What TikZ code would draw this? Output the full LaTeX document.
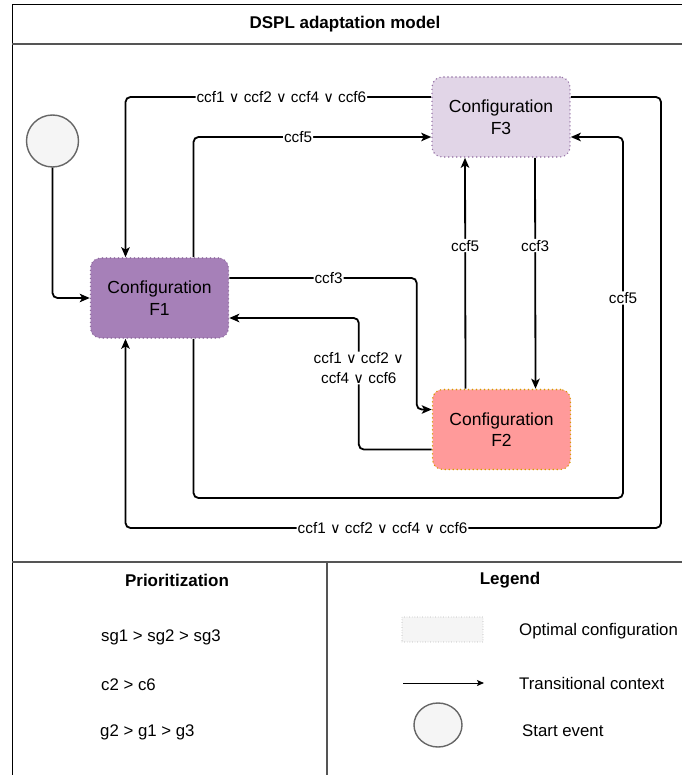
\documentclass[tikz,border=0pt]{standalone}
\usepackage{fontspec}
\setmainfont{Liberation Sans}
\newfontfamily\djv[Scale=0.95]{DejaVu Sans}
\usetikzlibrary{arrows.meta,calc,shapes.geometric}
\newcommand{\myor}{{\djv ∨}}
\definecolor{fonefill}{HTML}{A680B8}
\definecolor{foneline}{HTML}{8E6A9E}
\definecolor{fthreefill}{HTML}{E1D5E7}
\definecolor{fthreeline}{HTML}{9673A6}
\definecolor{ftwofill}{HTML}{FF9A9A}
\definecolor{ftwoline}{HTML}{D79B00}
\definecolor{startfill}{HTML}{F5F5F5}
\definecolor{startline}{HTML}{666666}
\definecolor{sepgray}{HTML}{555555}
\tikzset{
  cfg/.style={rectangle, rounded corners=10pt, minimum width=138pt, minimum height=80pt,
    line width=1.6pt, line cap=round, dash pattern=on 0pt off 4pt, align=center, inner sep=0pt,
    font=\fontsize{17.5}{21.5}\selectfont},
  edge/.style={line width=1.8pt, rounded corners=5pt, -{Stealth[length=10pt,width=8.5pt,inset=2.5pt]}},
  lbl/.style={fill=white, inner sep=1pt, font=\fontsize{15.3}{19.5}\selectfont, align=center},
  txt/.style={inner sep=0pt, font=\fontsize{16.8}{20}\selectfont},
  boldtxt/.style={inner sep=0pt, font=\fontsize{17}{20}\selectfont\bfseries},
  sepline/.style={line width=1.1pt, draw=sepgray},
}
\begin{document}
\begin{tikzpicture}[x=1pt,y=-1pt]
\useasboundingbox (0,0) rectangle (681,775);
% frame
\draw[line width=1pt] (12,4.5) rectangle (682,777);
\node[boldtxt] (title) at (345,24) {DSPL adaptation model};
\draw[sepline] (12,44) -- (682,44);

% nodes
\node[circle, minimum size=52pt, inner sep=0pt, fill=startfill, draw=startline, line width=1.4pt] (S) at (52.5,141) {};
\node[cfg, fill=fonefill, draw=foneline] (F1) at (159.5,298) {Configuration\\F1};
\node[cfg, fill=fthreefill, draw=fthreeline] (F3) at (501,117) {Configuration\\F3};
\node[cfg, fill=ftwofill, draw=ftwoline] (F2) at (501.5,429.5) {Configuration\\F2};

% edges
\draw[edge] (S) |- (F1);
\draw[edge] ([yshift=20pt]F3.west) -| node[lbl,pos=0.245]{ccf1 \myor{} ccf2 \myor{} ccf4 \myor{} ccf6} ([xshift=-34pt]F1.north);
\draw[edge] ([xshift=34pt]F1.north) |- node[lbl,pos=0.72]{ccf5} ([yshift=-20pt]F3.west);
\draw[edge] ([yshift=20pt]F1.east) -| node[lbl,pos=0.265]{ccf3} ([xshift=-15pt,yshift=20pt]F2.west) -- ([yshift=20pt]F2.west);
\draw[edge] ([yshift=-20pt]F2.west) -| node[lbl,pos=0.81]{ccf1 \myor{} ccf2 \myor{}\\ccf4 \myor{} ccf6} ([xshift=129.5pt,yshift=-20pt]F1.east) -- ([yshift=-20pt]F1.east);
\draw[edge] ([xshift=-36pt]F2.north) -- node[lbl,pos=0.62]{ccf5} ([xshift=-36pt]F3.south);
\draw[edge] ([xshift=34pt]F3.south) -- node[lbl,pos=0.38]{ccf3} ([xshift=34pt]F2.north);
\coordinate (c8) at (623,498);
\draw[edge] ([xshift=34pt]F1.south) |- (c8) |- node[lbl,pos=0.277]{ccf5} ([yshift=-20pt]F3.east);
\coordinate (c9) at (661,528);
\draw[edge] ([yshift=20pt]F3.east) -| (c9) -| node[lbl,pos=0.26]{ccf1 \myor{} ccf2 \myor{} ccf4 \myor{} ccf6} ([xshift=-34pt]F1.south);

% bottom panels
\draw[sepline] (12,562) -- (682,562);
\draw[sepline] (327,562) -- (327,777);
\node[boldtxt] (prio) at (177,580) {Prioritization};
\node[txt, anchor=west] (p1) at (101,637) {sg1 > sg2 > sg3};
\node[txt, anchor=west] (p2) at (101,685) {c2 > c6};
\node[txt, anchor=west] (p3) at (100,732) {g2 > g1 > g3};

\node[boldtxt] (leg) at (510,580) {Legend};
\node[rectangle, minimum width=81pt, minimum height=25pt, inner sep=0pt, fill=startfill,
  draw=gray!70, line width=0.9pt, line cap=round, dash pattern=on 0pt off 2.6pt] (lrect) at (442.5,629.5) {};
\node[txt, anchor=west] (l1) at (519,631) {Optimal configuration};
\coordinate (la1) at (403,683);
\coordinate (la2) at (484,683);
\draw[line width=1pt, -{Stealth[length=7pt,width=6pt,inset=1.5pt]}] (la1) -- (la2);
\node[txt, anchor=west] (l2) at (519,683) {Transitional context};
\node[ellipse, minimum width=48pt, minimum height=44pt, inner sep=0pt, fill=startfill,
  draw=startline, line width=1.4pt] (lcirc) at (438,725) {};
\node[txt, anchor=west] (l3) at (522,731) {Start event};
\end{tikzpicture}
\end{document}
